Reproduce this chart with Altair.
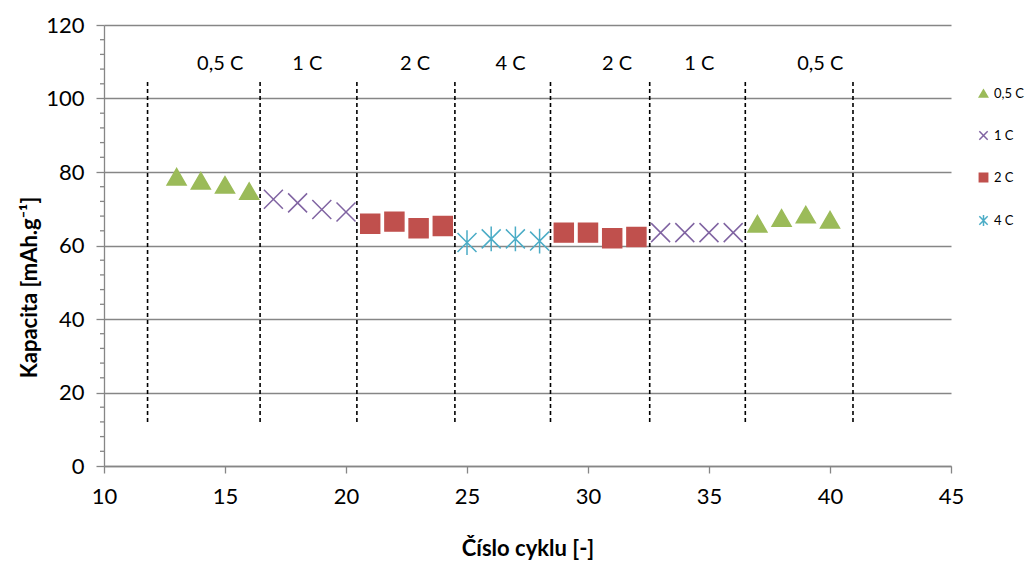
import altair as alt
import pandas as pd

# ---- data ----
cycles = list(range(13, 41))
capacity = [78.7, 77.6, 76.5, 74.8,
            72.6, 71.6, 69.8, 69.1,
            65.9, 66.5, 64.7, 65.3,
            60.8, 61.8, 61.8, 61.2,
            63.5, 63.5, 62.0, 62.3,
            63.5, 63.5, 63.5, 63.5,
            65.9, 67.5, 68.4, 67.0]
rates = (["0,5 C"] * 4 + ["1 C"] * 4 + ["2 C"] * 4 + ["4 C"] * 4 +
         ["2 C"] * 4 + ["1 C"] * 4 + ["0,5 C"] * 4)

series_names = ["0,5 C", "1 C", "2 C", "4 C"]
series_colors = ["#9BBB59", "#8064A2", "#C0504D", "#4BACC6"]

boundary_x = [11.8, 16.45, 20.45, 24.5, 28.45, 32.55, 36.5, 40.95]
boundary_top = 104.5
boundary_bottom = 12.0

section_labels = ["0,5 C", "1 C", "2 C", "4 C", "2 C", "1 C", "0,5 C"]
section_label_x = [14.8, 18.4, 22.85, 26.8, 31.2, 34.6, 39.6]
section_label_y = 109.5

y_minor = [v for v in range(0, 121, 4) if v % 20 != 0]

FONT = "Lato"

df = pd.DataFrame({"cycle": cycles, "cap": capacity, "rate": rates})
bdf = pd.DataFrame({"x": boundary_x, "y1": [boundary_bottom] * len(boundary_x),
                    "y2": [boundary_top] * len(boundary_x)})
ldf = pd.DataFrame({"x": section_label_x, "y": [section_label_y] * len(section_label_x),
                    "t": section_labels})
mdf = pd.DataFrame({"v": y_minor})

xscale = alt.Scale(domain=[10, 45], nice=False, zero=False)
yscale = alt.Scale(domain=[0, 120], nice=False)

x_path = "M-1,-1L1,1M-1,1L1,-1"
star_path = "M-1,-1L1,1M-1,1L1,-1M0,-1.3L0,1.3"
shapes = ["triangle-up", x_path, "square", star_path]

xaxis = alt.Axis(values=list(range(10, 46, 5)), title="Číslo cyklu [-]",
                 grid=False, tickSize=7, labelPadding=13, labelFlush=False,
                 titleFontSize=22, titleY=82, titleBaseline="middle")
yaxis = alt.Axis(values=list(range(0, 121, 20)), title="Kapacita [mAh.g⁻¹]",
                 grid=True, tickSize=8, labelPadding=12, labelFlush=False,
                 titleFontSize=22, titleX=-75, titleY=262, titleAngle=270,
                 titleAlign="center", titleBaseline="middle")

legend = alt.Legend(title=None, orient="none", legendX=873, legendY=62,
                    symbolSize=70, labelFontSize=13, rowPadding=27,
                    symbolStrokeWidth=1.5, labelFont=FONT)

points = alt.Chart(df).mark_point(size=360, strokeWidth=1.5, opacity=1).encode(
    x=alt.X("cycle:Q", scale=xscale, axis=xaxis),
    y=alt.Y("cap:Q", scale=yscale, axis=yaxis),
    fill=alt.Fill("rate:N", scale=alt.Scale(domain=series_names, range=series_colors), legend=legend),
    stroke=alt.Stroke("rate:N", scale=alt.Scale(domain=series_names, range=series_colors), legend=legend),
    shape=alt.Shape("rate:N", scale=alt.Scale(domain=series_names, range=shapes), legend=legend),
)

rules = alt.Chart(bdf).mark_rule(color="black", strokeWidth=1.6, strokeDash=[4, 3]).encode(
    x=alt.X("x:Q", scale=xscale),
    y=alt.Y("y1:Q", scale=yscale),
    y2="y2:Q",
)

labels = alt.Chart(ldf).mark_text(font=FONT, fontSize=20, color="black").encode(
    x=alt.X("x:Q", scale=xscale),
    y=alt.Y("y:Q", scale=yscale),
    text="t:N",
)

minor = alt.Chart(mdf).mark_rule(color="#868686", strokeWidth=1.3).encode(
    x=alt.value(-4), x2=alt.value(0),
    y=alt.Y("v:Q", scale=yscale),
)

chart = alt.layer(rules, minor, points, labels).properties(
    width=847, height=441,
    autosize=alt.AutoSizeParams(type="none"),
    padding={"left": 96, "top": 17, "right": 76, "bottom": 96},
).configure_view(stroke=None).configure_axis(
    labelFont=FONT, titleFont=FONT, labelFontSize=22,
    labelColor="black", titleColor="black", titleFontWeight="bold",
    domainColor="#868686", tickColor="#868686", gridColor="#868686",
    domainWidth=1.3, tickWidth=1.3, gridWidth=1.3,
).configure_legend(labelColor="black")

chart.save("out.html", embed_options={"renderer": "svg", "actions": False})
